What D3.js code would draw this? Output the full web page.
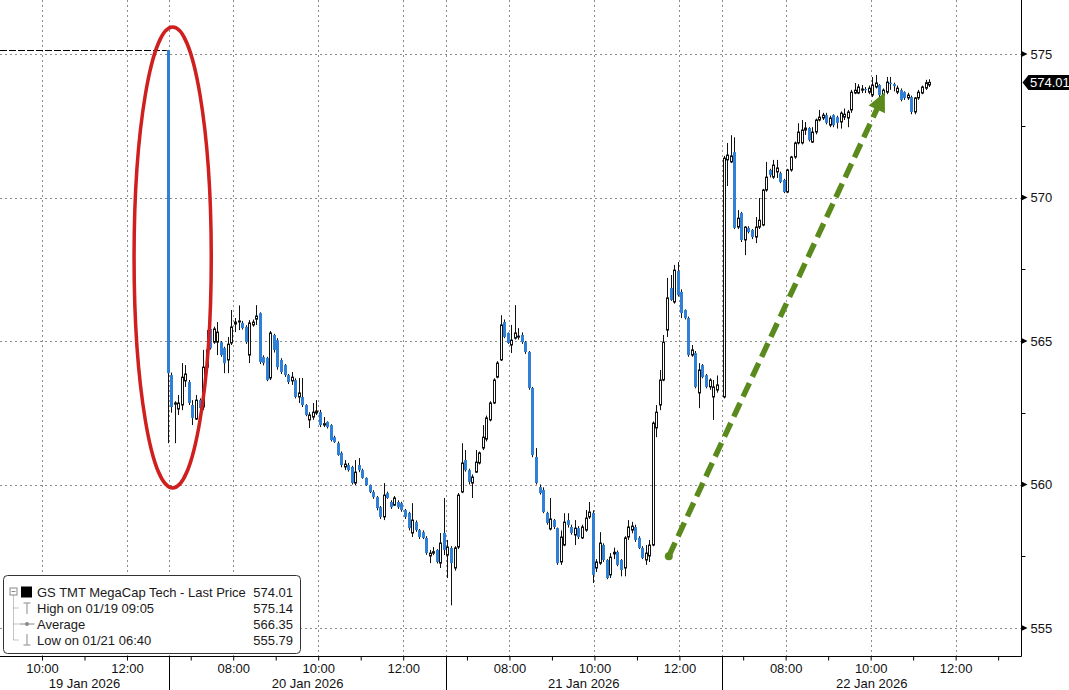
<!DOCTYPE html>
<html>
<head>
<meta charset="utf-8">
<script src="https://cdn.jsdelivr.net/npm/d3@7"></script>
<style>
  body { margin: 0; background: #fff; }
  svg { display: block; }
</style>
</head>
<body>
<svg id="chart" width="1069" height="690"></svg>
<script>
// trading sessions, minutes after midnight
const dayLabels = ["19 Jan 2026", "20 Jan 2026", "21 Jan 2026", "22 Jan 2026"];
const sessionOpen = [540, 390, 390, 390];
const sessionClose = [780, 780, 780, 813];
const firstBar = [775, 390, 390, 390];
const labelHours = [[10, 12], [8, 10, 12], [8, 10, 12], [8, 10, 12]];

// 5 minute bars: [open, high, low, close]
const barsJan19 = [[575.14, 575.14, 561.44, 563.88]];

const barsJan20 = [
  [563.81, 563.90, 562.50, 562.70], [562.80, 562.90, 561.44, 562.84], [562.63, 563.12, 562.42, 562.84],
  [562.77, 564.23, 562.59, 563.74], [563.61, 564.16, 563.40, 563.85], [563.57, 563.64, 562.77, 562.84],
  [562.77, 562.94, 562.07, 562.32], [562.28, 563.12, 562.25, 562.94], [562.94, 563.00, 562.60, 562.66],
  [562.70, 564.69, 562.59, 564.09], [564.09, 565.38, 563.99, 564.69], [565.42, 565.50, 564.70, 564.75],
  [564.96, 565.50, 564.90, 565.42], [564.96, 565.66, 564.51, 565.31], [564.96, 565.00, 564.45, 564.51],
  [564.75, 564.80, 563.88, 564.23], [564.34, 565.14, 563.88, 564.89], [564.93, 566.08, 564.86, 565.49],
  [565.59, 565.80, 565.31, 565.66], [565.66, 566.24, 565.38, 565.70], [565.63, 565.70, 565.40, 565.45],
  [565.49, 565.55, 564.90, 564.96], [564.51, 565.73, 564.23, 565.63], [565.56, 565.75, 565.50, 565.66],
  [565.76, 566.25, 565.56, 565.87], [565.97, 566.00, 564.20, 564.27], [564.44, 564.50, 564.15, 564.23],
  [564.41, 564.45, 563.60, 563.64], [563.71, 565.35, 563.64, 565.28], [565.21, 565.25, 564.60, 564.69],
  [565.03, 565.10, 564.00, 564.09], [564.34, 564.40, 563.85, 563.92], [564.16, 564.20, 563.75, 563.81],
  [563.81, 563.85, 563.50, 563.57], [563.61, 563.92, 563.47, 563.74], [563.64, 563.70, 563.00, 563.05],
  [563.05, 563.71, 562.84, 563.19], [563.05, 563.71, 562.70, 562.77], [562.77, 562.80, 562.38, 562.42],
  [562.25, 562.52, 561.97, 562.42], [562.35, 562.84, 562.25, 562.52], [562.49, 562.94, 562.42, 562.56],
  [562.52, 562.60, 562.00, 562.07], [562.07, 562.35, 562.00, 562.12], [562.18, 562.20, 561.95, 562.00],
  [562.07, 562.10, 561.50, 561.55], [561.65, 561.70, 561.45, 561.48], [561.44, 561.50, 561.00, 561.03],
  [561.10, 561.15, 560.60, 560.68], [560.61, 560.85, 560.50, 560.71], [560.68, 560.75, 560.45, 560.50],
  [560.61, 560.65, 560.00, 560.05], [560.05, 560.85, 559.98, 560.43], [560.68, 560.92, 560.43, 560.50],
  [560.50, 560.55, 560.20, 560.23], [560.23, 560.25, 559.95, 559.98], [559.98, 560.00, 559.70, 559.74],
  [559.74, 559.80, 559.50, 559.56], [559.56, 559.60, 559.10, 559.18], [559.21, 559.25, 558.80, 558.87],
  [558.87, 560.05, 558.76, 559.63], [559.70, 559.75, 559.50, 559.53], [559.39, 559.45, 559.15, 559.21],
  [559.28, 559.60, 559.25, 559.53], [559.39, 559.45, 559.15, 559.21], [559.35, 559.40, 559.05, 559.11],
  [559.11, 559.15, 558.80, 558.87], [559.01, 559.05, 558.40, 558.48], [558.31, 559.35, 558.17, 558.76],
  [558.69, 558.75, 558.35, 558.41], [558.41, 558.45, 558.10, 558.17], [558.34, 558.40, 558.10, 558.14],
  [558.14, 558.20, 557.55, 557.61], [557.51, 557.72, 557.26, 557.61], [557.61, 557.82, 557.54, 557.66],
  [557.72, 557.75, 557.25, 557.30], [557.26, 558.31, 557.09, 557.96], [558.31, 559.53, 557.54, 557.72]
];

const barsJan21 = [
  [557.54, 558.07, 556.74, 557.82], [557.79, 557.85, 555.79, 557.26], [557.09, 557.85, 557.00, 557.79],
  [557.82, 559.70, 557.75, 559.63], [559.74, 561.44, 559.70, 560.75], [560.85, 561.20, 560.45, 560.50],
  [560.50, 560.55, 560.00, 560.09], [560.05, 560.35, 559.53, 560.26], [560.43, 561.20, 560.40, 560.78],
  [560.75, 561.15, 560.70, 561.10], [561.27, 562.07, 561.20, 561.65], [561.58, 562.40, 561.50, 562.32],
  [562.25, 562.90, 562.20, 562.84], [562.84, 563.70, 562.80, 563.64], [563.74, 564.30, 563.70, 564.23],
  [564.34, 565.90, 564.30, 565.56], [565.66, 565.75, 565.10, 565.14], [565.28, 565.30, 564.90, 564.93],
  [564.86, 565.56, 564.58, 565.03], [565.10, 566.25, 565.05, 565.28], [565.14, 565.45, 565.05, 565.17],
  [565.21, 565.30, 564.90, 564.96], [564.96, 565.00, 564.55, 564.62], [564.62, 564.65, 563.30, 563.36],
  [563.36, 563.40, 560.95, 561.03], [560.96, 561.27, 560.00, 560.05], [559.91, 560.00, 559.65, 559.70],
  [559.81, 559.90, 559.00, 559.04], [559.01, 559.05, 558.60, 558.66], [558.45, 559.53, 558.40, 558.80],
  [558.76, 558.80, 558.45, 558.52], [558.48, 558.50, 557.20, 557.26], [557.30, 558.40, 557.20, 558.17],
  [557.89, 559.00, 557.85, 558.69], [558.76, 559.00, 558.50, 558.59], [558.52, 558.60, 558.25, 558.31],
  [558.24, 558.76, 557.89, 558.48], [558.48, 558.55, 558.10, 558.17], [558.14, 558.60, 558.10, 558.52],
  [558.41, 559.11, 558.35, 558.83], [558.87, 559.39, 558.80, 559.04], [559.01, 559.10, 556.57, 556.85],
  [557.09, 557.40, 556.95, 557.30], [557.26, 558.34, 557.20, 557.96], [557.89, 557.95, 557.30, 557.37],
  [557.37, 557.40, 556.70, 556.74], [556.85, 557.61, 556.74, 557.47], [557.58, 557.80, 557.40, 557.64],
  [557.65, 557.70, 557.15, 557.20], [557.37, 557.40, 556.80, 557.02], [557.09, 558.20, 556.80, 558.14],
  [558.17, 558.76, 558.07, 558.52], [558.41, 558.70, 558.30, 558.55], [558.52, 558.60, 558.00, 558.07],
  [558.14, 558.20, 557.75, 557.79], [557.79, 557.85, 557.40, 557.44], [557.37, 557.89, 557.20, 557.61],
  [557.51, 558.07, 557.30, 557.89], [557.89, 562.20, 557.85, 562.14], [561.97, 562.77, 561.65, 562.52],
  [562.77, 563.99, 562.59, 563.64], [563.64, 565.21, 563.60, 564.96], [565.38, 567.20, 565.14, 566.50],
  [566.85, 567.30, 566.40, 566.43], [566.36, 567.65, 566.30, 567.47], [567.44, 567.75, 566.55, 566.60],
  [566.71, 566.80, 565.80, 565.97], [566.08, 566.10, 565.75, 565.80], [565.80, 565.85, 564.45, 564.51],
  [564.51, 564.86, 564.45, 564.69], [564.58, 564.65, 563.35, 563.40], [563.19, 564.23, 562.66, 563.99],
  [564.16, 564.20, 563.70, 563.74], [563.81, 563.85, 563.35, 563.40], [563.40, 563.70, 563.30, 563.64],
  [563.05, 563.64, 562.25, 563.40], [563.29, 563.80, 563.20, 563.47]
];

const barsJan22 = [
  [563.05, 571.45, 563.00, 571.37], [571.31, 571.90, 570.40, 571.48], [571.24, 572.17, 571.20, 571.45],
  [571.58, 572.10, 568.90, 568.94], [568.97, 569.56, 568.90, 569.28], [569.46, 569.50, 568.45, 568.52],
  [568.52, 569.00, 567.99, 568.97], [568.94, 569.00, 568.75, 568.80], [568.87, 568.90, 568.55, 568.62],
  [568.62, 569.32, 568.41, 568.97], [568.97, 569.98, 568.90, 569.21], [569.04, 570.30, 569.00, 570.26],
  [570.26, 571.24, 570.20, 570.71], [570.96, 571.00, 570.70, 570.78], [570.71, 571.31, 570.65, 571.13],
  [570.89, 571.31, 570.68, 571.03], [570.85, 570.90, 570.50, 570.54], [570.61, 570.65, 570.15, 570.19],
  [570.19, 571.00, 570.15, 570.96], [570.96, 571.45, 570.90, 571.41], [571.41, 571.95, 571.35, 571.90],
  [571.90, 572.59, 571.85, 572.28], [571.90, 572.70, 571.85, 572.35], [572.35, 572.63, 572.18, 572.42],
  [572.42, 572.45, 571.95, 572.00], [571.93, 572.45, 571.90, 572.28], [572.28, 572.75, 572.20, 572.70],
  [572.70, 573.05, 572.65, 572.80], [572.77, 572.95, 572.70, 572.87], [572.87, 572.95, 572.55, 572.60],
  [572.52, 572.85, 572.45, 572.77], [572.87, 572.90, 572.45, 572.52], [572.80, 572.85, 572.40, 572.60],
  [572.63, 573.00, 572.40, 572.94], [572.80, 573.10, 572.70, 572.90], [572.77, 573.05, 572.45, 572.98],
  [573.05, 573.75, 572.95, 573.67], [573.64, 573.99, 573.60, 573.74], [573.64, 573.95, 573.60, 573.85],
  [573.74, 573.92, 573.64, 573.78], [573.78, 573.85, 573.64, 573.74], [573.67, 573.90, 573.60, 573.81],
  [573.57, 574.20, 573.50, 573.92], [573.85, 574.27, 573.80, 573.99], [573.92, 573.95, 573.50, 573.57],
  [573.57, 573.80, 573.50, 573.74], [573.67, 574.20, 573.60, 574.02], [574.00, 574.20, 573.75, 573.95],
  [573.95, 574.00, 573.70, 573.88], [573.67, 573.90, 573.60, 573.81], [573.74, 573.80, 573.35, 573.40],
  [573.67, 573.70, 573.40, 573.47], [573.47, 573.65, 573.40, 573.57], [573.50, 573.55, 572.90, 572.98],
  [572.98, 573.50, 572.90, 573.47], [573.47, 573.75, 573.40, 573.67], [573.64, 573.90, 573.60, 573.85],
  [573.81, 574.10, 573.75, 574.00], [573.92, 574.12, 573.85, 574.01]
];

const yTicks = [555, 560, 565, 570, 575];
const yMinorTicks = [557.5, 562.5, 567.5, 572.5];
const lastPrice = 574.01;
const highPrice = 575.14;

const legendLabels = ["GS TMT MegaCap Tech - Last Price", "High on 01/19 09:05", "Average", "Low on 01/21 06:40"];
const legendValues = ["574.01", "575.14", "566.35", "555.79"];

// annotations: [day, minute], price
const ellipseTimes = [[0, 730], [1, 449]];
const ellipsePrices = [575.94, 559.88];
const arrowTimes = [[2, 705], [3, 620]];
const arrowPrices = [557.5, 573.67];

const W = 1069, H = 690;
const plotRight = 1021.5, plotBottom = 656.5;
const upFill = "#ffffff", downFill = "#2f80d6";
const gridColor = "#8c8c8c";
const font = "'Liberation Sans', Arial, sans-serif";

const svg = d3.select("#chart").style("font-family", font);

// continuous trading-minute axis
const dayOffset = [];
let acc = 0;
sessionOpen.forEach((o, d) => {
  dayOffset.push(acc);
  acc += sessionClose[d] - o;
});
const totalMinutes = acc;

const x = d3.scaleLinear().domain([0, totalMinutes]).range([-0.5, plotRight]);
const y = d3.scaleLinear().domain([555, 575]).range([628, 54]);

function tm(day, minute) {
  return dayOffset[day] + minute - sessionOpen[day];
}
function xPos(day, minute) {
  return x(tm(day, minute));
}

const bars = [];
[barsJan19, barsJan20, barsJan21, barsJan22].forEach((list, d) => {
  list.forEach((b, i) => {
    bars.push({ day: d, minute: firstBar[d] + 5 * i + 2.5, o: b[0], h: b[1], l: b[2], c: b[3] });
  });
});

// hour ticks, labelled ones and day separators
const hourTicks = [];
const labelTicks = [];
sessionOpen.forEach((o, d) => {
  for (let h = Math.ceil(o / 60); h * 60 < sessionClose[d]; h++) {
    if (h * 60 <= o) continue;
    hourTicks.push(tm(d, h * 60));
    if (labelHours[d].includes(h)) labelTicks.push({ t: tm(d, h * 60), h: h });
  }
});
const dayBreaks = dayOffset.slice(1);

function drawGrid() {
  const g = svg.append("g")
    .attr("stroke", gridColor)
    .attr("stroke-dasharray", "2,3")
    .attr("shape-rendering", "crispEdges");

  g.selectAll("line.h")
    .data(yTicks)
    .join("line")
    .attr("x1", 0)
    .attr("x2", plotRight)
    .attr("y1", (d) => Math.round(y(d)) + 0.5)
    .attr("y2", (d) => Math.round(y(d)) + 0.5);

  g.selectAll("line.v")
    .data(labelTicks.map((d) => d.t).concat(dayBreaks))
    .join("line")
    .attr("x1", (d) => Math.round(x(d)) + 0.5)
    .attr("x2", (d) => Math.round(x(d)) + 0.5)
    .attr("y1", 0)
    .attr("y2", plotBottom);
}

function drawHighLine() {
  const first = bars[0];
  svg.append("line")
    .attr("x1", 0)
    .attr("x2", xPos(first.day, first.minute) - 1)
    .attr("y1", Math.round(y(highPrice)) + 0.5)
    .attr("y2", Math.round(y(highPrice)) + 0.5)
    .attr("stroke", "#000")
    .attr("stroke-dasharray", "7,2");
}

function drawCandles() {
  const g = svg.append("g");
  const cx = (d) => Math.round(xPos(d.day, d.minute)) + 0.5;

  g.selectAll("line")
    .data(bars)
    .join("line")
    .attr("x1", cx)
    .attr("x2", cx)
    .attr("y1", (d) => y(d.h))
    .attr("y2", (d) => y(d.l))
    .attr("stroke", "#111")
    .attr("stroke-width", 1);

  g.selectAll("rect")
    .data(bars)
    .join("rect")
    .attr("x", (d) => (d.c >= d.o ? cx(d) - 1 : cx(d) - 1.5))
    .attr("width", (d) => (d.c >= d.o ? 2 : 3))
    .attr("y", (d) => y(Math.max(d.o, d.c)))
    .attr("height", (d) => Math.max(1, Math.abs(y(d.o) - y(d.c))))
    .attr("fill", (d) => (d.c >= d.o ? upFill : downFill))
    .attr("stroke", (d) => (d.c >= d.o ? "#111" : "none"))
    .attr("stroke-width", 1);
}

function drawAxes() {
  // bottom
  svg.append("line")
    .attr("x1", 0).attr("x2", plotRight)
    .attr("y1", plotBottom).attr("y2", plotBottom)
    .attr("stroke", "#000");

  const labelMap = new Map(labelTicks.map((d) => [d.t, d.h]));
  const xAxis = d3.axisBottom(x)
    .tickValues(hourTicks)
    .tickSize(4)
    .tickPadding(3)
    .tickFormat((d) => (labelMap.has(d) ? String(labelMap.get(d)).padStart(2, "0") + ":00" : ""));

  const gx = svg.append("g")
    .attr("transform", `translate(0, ${plotBottom})`)
    .call(xAxis);
  gx.select(".domain").remove();
  gx.selectAll("text").attr("font-size", 13).attr("font-family", font).attr("fill", "#111");
  gx.selectAll("line").attr("stroke", "#000");

  svg.selectAll("line.sep")
    .data(dayBreaks)
    .join("line")
    .attr("x1", (d) => Math.round(x(d)) + 0.5)
    .attr("x2", (d) => Math.round(x(d)) + 0.5)
    .attr("y1", plotBottom)
    .attr("y2", H)
    .attr("stroke", "#000");

  svg.selectAll("text.day")
    .data(dayLabels)
    .join("text")
    .attr("x", (d, i) => (x(dayOffset[i]) + x(i < 3 ? dayOffset[i + 1] : totalMinutes)) / 2)
    .attr("y", 688)
    .attr("text-anchor", "middle")
    .attr("font-size", 13)
    .attr("fill", "#111")
    .text((d) => d);

  // right
  svg.append("line")
    .attr("x1", plotRight).attr("x2", plotRight)
    .attr("y1", 0).attr("y2", plotBottom)
    .attr("stroke", "#000");

  const yAxis = d3.axisRight(y).tickValues(yTicks).tickSize(0).tickPadding(9);
  const gy = svg.append("g")
    .attr("transform", `translate(${plotRight}, 0)`)
    .call(yAxis);
  gy.select(".domain").remove();
  gy.selectAll("text").attr("font-size", 13).attr("font-family", font).attr("fill", "#111");

  svg.selectAll("path.ytick")
    .data(yTicks)
    .join("path")
    .attr("d", (d) => `M${plotRight},${y(d) - 3}L${plotRight + 6},${y(d)}L${plotRight},${y(d) + 3}Z`)
    .attr("fill", "#000");

  svg.selectAll("line.yminor")
    .data(yMinorTicks)
    .join("line")
    .attr("x1", plotRight).attr("x2", plotRight + 4)
    .attr("y1", (d) => Math.round(y(d)) + 0.5)
    .attr("y2", (d) => Math.round(y(d)) + 0.5)
    .attr("stroke", "#000");

  // last price tag
  const ly = y(lastPrice);
  svg.append("path")
    .attr("d", `M${plotRight + 1},${ly}L${plotRight + 7},${ly - 7.5}L${W},${ly - 7.5}L${W},${ly + 7.5}L${plotRight + 7},${ly + 7.5}Z`)
    .attr("fill", "#000");
  svg.append("text")
    .attr("x", plotRight + 8.5)
    .attr("y", ly + 5)
    .attr("font-size", 13)
    .attr("fill", "#fff")
    .text(lastPrice.toFixed(2));
}

function drawAnnotations() {
  const x0 = xPos(...ellipseTimes[0]), x1 = xPos(...ellipseTimes[1]);
  const y0 = y(ellipsePrices[0]), y1 = y(ellipsePrices[1]);
  svg.append("ellipse")
    .attr("cx", (x0 + x1) / 2)
    .attr("cy", (y0 + y1) / 2)
    .attr("rx", (x1 - x0) / 2)
    .attr("ry", (y1 - y0) / 2)
    .attr("fill", "none")
    .attr("stroke", "#cf1f1f")
    .attr("stroke-width", 3.5);

  const p0 = [xPos(...arrowTimes[0]), y(arrowPrices[0])];
  const p1 = [xPos(...arrowTimes[1]), y(arrowPrices[1])];
  const len = Math.hypot(p1[0] - p0[0], p1[1] - p0[1]);
  const u = [(p1[0] - p0[0]) / len, (p1[1] - p0[1]) / len];
  const n = [-u[1], u[0]];
  const headLen = 19, headW = 9;
  const green = "#5a8a1c";

  svg.append("line")
    .attr("x1", p0[0]).attr("y1", p0[1])
    .attr("x2", p1[0] - u[0] * (headLen - 2)).attr("y2", p1[1] - u[1] * (headLen - 2))
    .attr("stroke", green)
    .attr("stroke-width", 5.5)
    .attr("stroke-dasharray", "15,7");

  svg.append("circle")
    .attr("cx", p0[0]).attr("cy", p0[1]).attr("r", 4)
    .attr("fill", green);

  const b = [p1[0] - u[0] * headLen, p1[1] - u[1] * headLen];
  svg.append("path")
    .attr("d", `M${p1[0]},${p1[1]}L${b[0] + n[0] * headW},${b[1] + n[1] * headW}L${b[0] - n[0] * headW},${b[1] - n[1] * headW}Z`)
    .attr("fill", green);
}

function drawLegend() {
  const lg = svg.append("g").attr("transform", "translate(3.5, 575.5)");
  lg.append("rect")
    .attr("width", 297).attr("height", 78).attr("rx", 4)
    .attr("fill", "#fff").attr("stroke", "#333");

  const rowY = [16.5, 32.5, 48.5, 64.5];
  const icon = "#8a8a8a";

  // tree lines
  lg.append("line")
    .attr("x1", 10).attr("x2", 10).attr("y1", 20).attr("y2", rowY[3])
    .attr("stroke", icon).attr("stroke-dasharray", "1,1");
  rowY.slice(1).forEach((ry) => {
    lg.append("line").attr("x1", 10).attr("x2", 15).attr("y1", ry).attr("y2", ry)
      .attr("stroke", icon).attr("stroke-dasharray", "1,1");
  });

  // collapse box + series square
  lg.append("rect").attr("x", 6.5).attr("y", 12.5).attr("width", 7).attr("height", 7)
    .attr("fill", "#fff").attr("stroke", icon);
  lg.append("line").attr("x1", 8).attr("x2", 12).attr("y1", 16).attr("y2", 16).attr("stroke", icon);
  lg.append("rect").attr("x", 17.5).attr("y", 11).attr("width", 11).attr("height", 11).attr("fill", "#000");

  // high / average / low icons
  lg.append("path")
    .attr("d", `M20,${rowY[1] - 5}H27M23.5,${rowY[1] - 5}V${rowY[1] + 6}`)
    .attr("stroke", icon).attr("fill", "none");
  lg.append("path")
    .attr("d", `M16,${rowY[2]}H31`)
    .attr("stroke", icon);
  lg.append("circle").attr("cx", 23.5).attr("cy", rowY[2]).attr("r", 2).attr("fill", icon);
  lg.append("path")
    .attr("d", `M23.5,${rowY[3] - 6}V${rowY[3] + 5}M20,${rowY[3] + 5}H27`)
    .attr("stroke", icon).attr("fill", "none");

  lg.selectAll("text.lab")
    .data(legendLabels)
    .join("text")
    .attr("x", 33.5)
    .attr("y", (d, i) => rowY[i] + 4.7)
    .attr("font-size", 13)
    .attr("fill", "#1a1a1a")
    .text((d) => d);

  lg.selectAll("text.val")
    .data(legendValues)
    .join("text")
    .attr("x", 289.5)
    .attr("y", (d, i) => rowY[i] + 4.7)
    .attr("text-anchor", "end")
    .attr("font-size", 13)
    .attr("fill", "#1a1a1a")
    .text((d) => d);
}

drawGrid();
drawHighLine();
drawCandles();
drawAxes();
drawAnnotations();
drawLegend();
</script>
</body>
</html>
